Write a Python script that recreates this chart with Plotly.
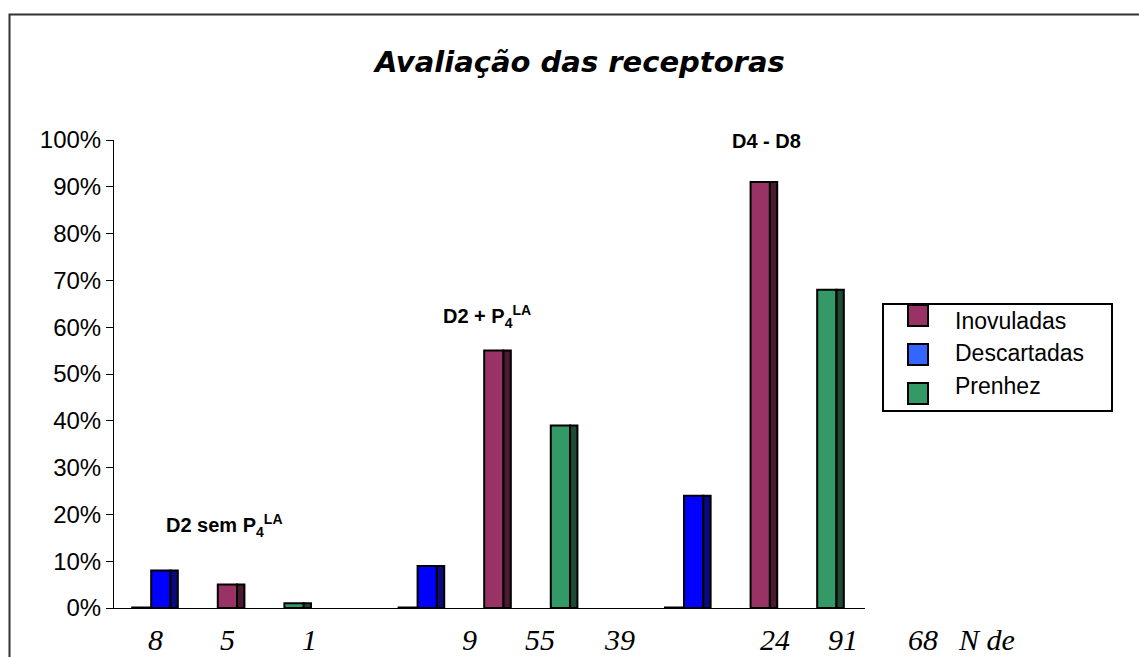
import plotly.graph_objects as go

# ---- data -------------------------------------------------------------
grupos = ["D2 sem P<sub>4</sub><sup>LA</sup>", "D2 + P<sub>4</sub><sup>LA</sup>", "D4 - D8"]
descartadas = [8, 9, 24]      # % descartadas
inovuladas = [5, 55, 91]      # % inovuladas
prenhez = [1, 39, 68]         # % prenhez
sem_registro = [0, 0, 0]      # zero-valued series drawn flat on the baseline
rotulo_final = "N de"
y_ticks = list(range(0, 101, 10))

# ---- styles -----------------------------------------------------------
series = [
    # name, values, face colour, side colour, legend swatch colour
    ("Descartadas", descartadas, "#0000FF", "#0A0A80", "#3366FF"),
    ("Inovuladas", inovuladas, "#993366", "#4A1A33", "#993366"),
    ("Prenhez", prenhez, "#339966", "#1E4A33", "#339966"),
]
legend_order = ["Inovuladas", "Descartadas", "Prenhez"]

W, H = 1139, 657
PL, PR, PT, PB = 114, 865, 140, 608   # plot-area edges in pixels


def px(x):
    return (x - PL) / (PR - PL)


def py(y):
    return (PB - y) / (PB - PT)


fig = go.Figure()

face_w, side_w, face_off = 0.29, 0.11, -0.2
n_groups = len(grupos)

for s, (name, vals, face, side, _) in enumerate(series):
    xs = [4 * g + s for g in range(n_groups)]
    fig.add_trace(go.Bar(
        x=xs, y=vals, width=face_w, offset=face_off,
        marker=dict(color=face, line=dict(color="black", width=2)),
        showlegend=False, hoverinfo="y", name=name))
    fig.add_trace(go.Bar(
        x=xs, y=vals, width=side_w, offset=face_off + face_w,
        marker=dict(color=side, line=dict(color="black", width=2)),
        showlegend=False, hoverinfo="skip"))

# flat zero bars just left of each group's first column
for g, v in enumerate(sem_registro):
    left = 4 * g + face_off - 0.3
    fig.add_trace(go.Scatter(
        x=[left, 4 * g + face_off], y=[v, v], mode="lines",
        line=dict(color="black", width=3), showlegend=False, hoverinfo="skip"))

annotations = []


def label(x, y, text, font, xanchor="center", yanchor="middle"):
    annotations.append(dict(
        x=px(x), y=py(y), xref="paper", yref="paper", showarrow=False,
        text=text, xanchor=xanchor, yanchor=yanchor, font=font))


# title
label(579, 62, "Avaliação das receptoras",
      dict(family="DejaVu Sans", size=29, color="black", weight="bold", style="italic"))

# group labels
group_pos = [(224, 525), (487, 316), (766, 141)]
for txt, (gx, gy) in zip(grupos, group_pos):
    label(gx, gy, f"<b>{txt}</b>", dict(family="Liberation Sans", size=20, color="black"))

# value row under the axis
serif_it = dict(family="Liberation Serif", size=30, color="black", style="italic")
valores = []
for g in range(n_groups):
    for _, vals, *_rest in series:
        valores.append(vals[g])
valor_x = [155, 227, 309, 469, 540, 619, 775, 843, 923]
for v, vx in zip(valores, valor_x):
    label(vx, 639, str(v), serif_it)
label(956, 639, rotulo_final, serif_it, xanchor="left")

# legend
shapes = []
shapes.append(dict(type="rect", xref="paper", yref="paper",
                   x0=px(883), x1=px(1112), y0=py(304), y1=py(411),
                   line=dict(color="black", width=2), fillcolor="white", layer="above"))
sw = {name: sc for name, _, _, _, sc in series}
sw_y = [(305, 326), (344, 365), (383, 404)]
txt_y = [321, 353, 386]
for name, (y0, y1), ty in zip(legend_order, sw_y, txt_y):
    shapes.append(dict(type="rect", xref="paper", yref="paper",
                       x0=px(908), x1=px(928), y0=py(y1), y1=py(y0),
                       line=dict(color="black", width=2), fillcolor=sw[name], layer="above"))
    label(953, ty, name, dict(family="Liberation Sans", size=23, color="black"), xanchor="left")

# outer chart frame
shapes.append(dict(type="rect", xref="paper", yref="paper",
                   x0=px(9.5), x1=px(1160), y0=py(14.5), y1=py(680),
                   line=dict(color="#333333", width=2), fillcolor="rgba(0,0,0,0)",
                   layer="above"))

fig.update_layout(
    width=W, height=H,
    margin=dict(l=PL, r=W - PR, t=PT, b=H - PB, pad=0),
    paper_bgcolor="white", plot_bgcolor="white",
    barmode="overlay", showlegend=False,
    xaxis=dict(range=[(PL - 164.5) / 66.6, (PR - 164.5) / 66.6],
               showline=True, linecolor="black", linewidth=1,
               showticklabels=False, ticks="", showgrid=False, zeroline=False,
               fixedrange=True),
    yaxis=dict(range=[0, 100], tickvals=y_ticks,
               ticktext=[f"{t}%" for t in y_ticks],
               showline=True, linecolor="black", linewidth=1,
               ticks="outside", ticklen=7, tickcolor="black", tickwidth=1,
               showgrid=False, zeroline=False, automargin=False,
               tickfont=dict(family="Liberation Sans", size=24, color="black")),
    annotations=annotations, shapes=shapes,
)

fig.write_html("out.html")
